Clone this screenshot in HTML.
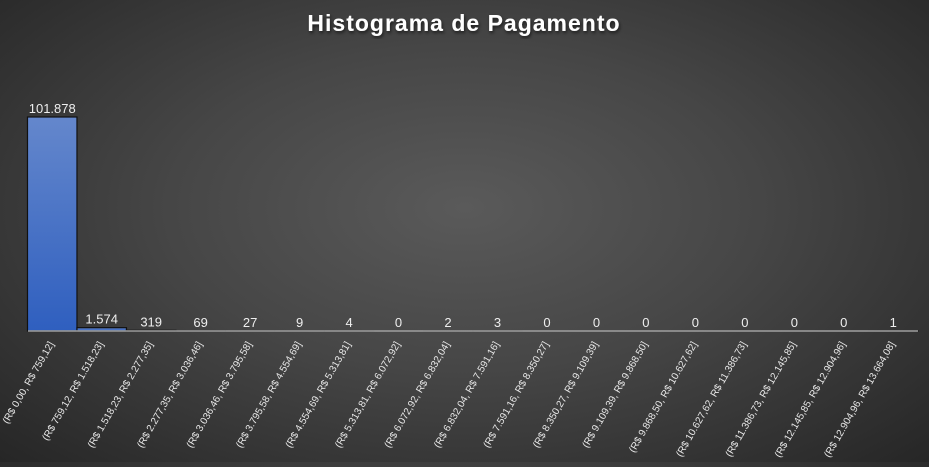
<!DOCTYPE html>
<html><head><meta charset="utf-8"><style>
html,body{margin:0;padding:0;}
body{width:929px;height:462px;overflow:hidden;background:radial-gradient(ellipse at 50% 45%,#5a5a5a 0%,#464646 45%,#262626 100%);font-family:"Liberation Sans",sans-serif;}
</style></head><body>
<svg id="chart" width="929" height="462" xmlns="http://www.w3.org/2000/svg">
<defs>
<linearGradient id="bg" x1="0" y1="0" x2="0" y2="1"><stop offset="0" stop-color="#6487cc"/><stop offset="1" stop-color="#2f5fbf"/></linearGradient>
<filter id="sh"><feDropShadow dx="1" dy="2" stdDeviation="1.5" flood-color="#000" flood-opacity="0.6"/></filter>
</defs>
<text x="464" y="31" text-anchor="middle" fill="#fff" font-size="23" font-weight="bold" filter="url(#sh)" letter-spacing="1">Histograma de Pagamento</text>
<g id="bars"></g>
<g id="vals"></g>
<g id="cats"></g>
<line x1="28" y1="331" x2="918" y2="331" stroke="#a0a0a0" stroke-width="1.5"/>
</svg>
<script>
const categories=["(R$ 0,00, R$ 759,12]","(R$ 759,12, R$ 1.518,23]","(R$ 1.518,23, R$ 2.277,35]","(R$ 2.277,35, R$ 3.036,46]","(R$ 3.036,46, R$ 3.795,58]","(R$ 3.795,58, R$ 4.554,69]","(R$ 4.554,69, R$ 5.313,81]","(R$ 5.313,81, R$ 6.072,92]","(R$ 6.072,92, R$ 6.832,04]","(R$ 6.832,04, R$ 7.591,16]","(R$ 7.591,16, R$ 8.350,27]","(R$ 8.350,27, R$ 9.109,39]","(R$ 9.109,39, R$ 9.868,50]","(R$ 9.868,50, R$ 10.627,62]","(R$ 10.627,62, R$ 11.386,73]","(R$ 11.386,73, R$ 12.145,85]","(R$ 12.145,85, R$ 12.904,96]","(R$ 12.904,96, R$ 13.664,08]"];
const counts=[101878,1574,319,69,27,9,4,0,2,3,0,0,0,0,0,0,0,1];
const valueLabels=["101.878","1.574","319","69","27","9","4","0","2","3","0","0","0","0","0","0","0","1"];
const NS="http://www.w3.org/2000/svg";
const x0=27.5,x1=918,y0=331,yTop=117,maxV=101878;
const bw=(x1-x0)/categories.length;
const xs=i=>x0+i*bw;
const ys=v=>y0-(v/maxV)*(y0-yTop);
const gB=document.getElementById('bars'),gV=document.getElementById('vals'),gC=document.getElementById('cats');
counts.forEach((v,i)=>{
 const r=document.createElementNS(NS,'rect');
 
 
 r.setAttribute('x',xs(i));r.setAttribute('width',bw);
 r.setAttribute('y',ys(v));r.setAttribute('height',Math.max(0,y0-ys(v)));
 r.setAttribute('fill','url(#bg)');r.setAttribute('stroke','#111');r.setAttribute('stroke-width','1.2');
 gB.appendChild(r);
 const t=document.createElementNS(NS,'text');
 
 
 t.setAttribute('x',xs(i)+bw/2);t.setAttribute('y',Math.min(ys(v)-4,327));
 t.setAttribute('text-anchor','middle');t.setAttribute('fill','#eee');t.setAttribute('font-size','13');
 t.textContent=valueLabels[i];gV.appendChild(t);
 const c=document.createElementNS(NS,'text');
 
 
 const cx=xs(i)+bw/2+2,cy=344;
 c.setAttribute('x',cx);c.setAttribute('y',cy);
 c.setAttribute('transform','rotate(-60 '+cx+' '+cy+')');
 c.setAttribute('text-anchor','end');c.setAttribute('fill','#e8e8e8');c.setAttribute('font-size','10');
 c.textContent=categories[i];gC.appendChild(c);
});
</script>
</body></html>
